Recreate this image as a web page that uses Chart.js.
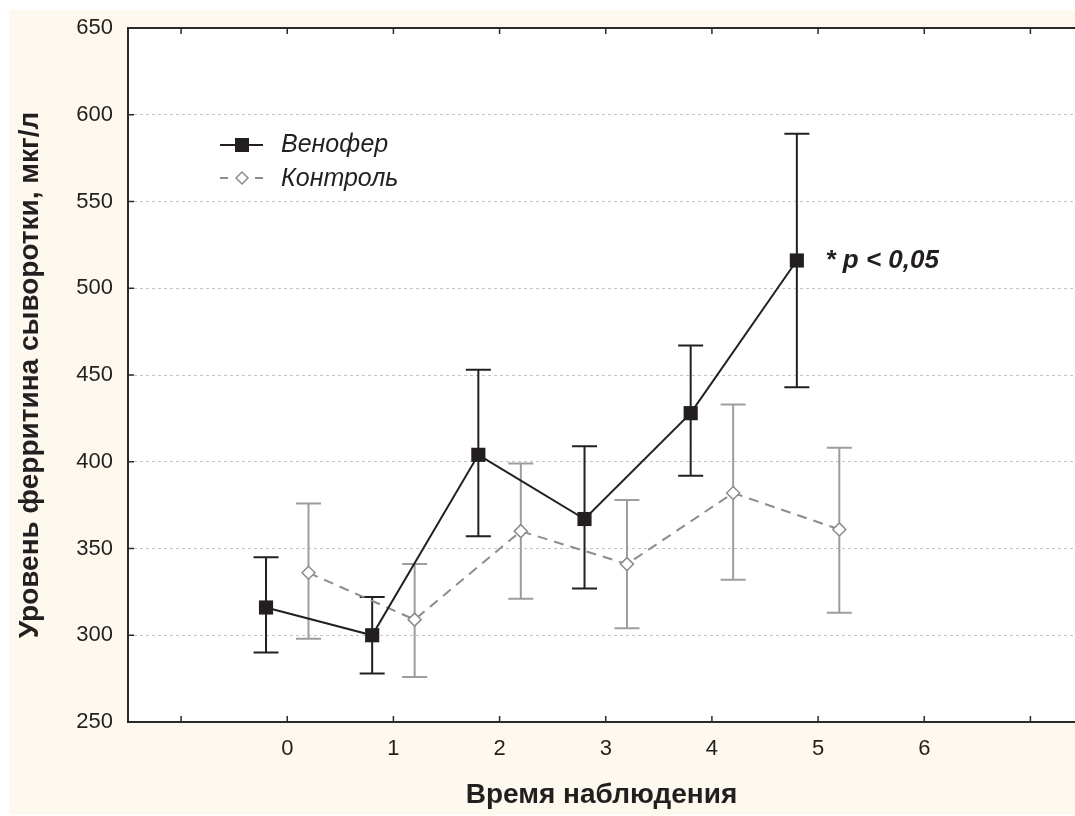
<!DOCTYPE html>
<html>
<head>
<meta charset="utf-8">
<script src="https://cdn.jsdelivr.net/npm/chart.js@4"></script>
<style>
  html, body { margin: 0; padding: 0; background: #fff; overflow: hidden; }
  canvas { display: block; }
</style>
</head>
<body>
<canvas id="ferritinChart" width="1075" height="816"></canvas>
<script>
// Данные
const timePoints = [0, 1, 2, 3, 4, 5];
const venoferMean = [316, 300, 404, 367, 428, 516];
const venoferLow  = [290, 278, 357, 327, 392, 443];
const venoferHigh = [345, 322, 453, 409, 467, 589];
const controlMean = [336, 309, 360, 341, 382, 361];
const controlLow  = [298, 276, 321, 304, 332, 313];
const controlHigh = [376, 341, 399, 378, 433, 408];
const xTicks = [-1, 0, 1, 2, 3, 4, 5, 6, 7];
const xLabels = ['', '0', '1', '2', '3', '4', '5', '6', ''];
const yTicks = [250, 300, 350, 400, 450, 500, 550, 600, 650];
const seriesNames = ['Венофер', 'Контроль'];
const shift = 0.2;

const FONT = "Arial, 'Liberation Sans', sans-serif";
const DARK = '#231f20';
const GREY_LINE = '#8c8c8c';
const GREY_BAR = '#9d9d9d';

const venoferPoints = timePoints.map((t, i) => ({ x: t - shift, y: venoferMean[i] }));
const controlPoints = timePoints.map((t, i) => ({ x: t + shift, y: controlMean[i] }));

// фон, рамка, засечки
const framePlugin = {
    id: 'frame',
    beforeDraw(chart) {
        const { ctx, chartArea: a } = chart;
        ctx.save();
        ctx.fillStyle = '#ffffff';
        ctx.fillRect(0, 0, chart.width, chart.height);
        ctx.fillStyle = '#fef9ee';
        ctx.fillRect(9, 10, chart.width - 9, 805);
        ctx.fillStyle = '#ffffff';
        ctx.fillRect(a.left, a.top, a.right - a.left, a.bottom - a.top);
        ctx.restore();
    },
    afterDraw(chart) {
        const { ctx, chartArea: a, scales } = chart;
        ctx.save();
        ctx.strokeStyle = '#2b2b2b';
        ctx.lineWidth = 2;
        ctx.beginPath();
        ctx.moveTo(a.right, a.top);
        ctx.lineTo(a.left, a.top);
        ctx.lineTo(a.left, a.bottom);
        ctx.lineTo(a.right, a.bottom);
        ctx.stroke();
        ctx.lineWidth = 1.5;
        ctx.beginPath();
        xTicks.forEach(v => {
            const px = scales.x.getPixelForValue(v);
            ctx.moveTo(px, a.top); ctx.lineTo(px, a.top + 6);
            ctx.moveTo(px, a.bottom); ctx.lineTo(px, a.bottom - 6);
        });
        yTicks.forEach(v => {
            const py = scales.y.getPixelForValue(v);
            ctx.moveTo(a.left, py); ctx.lineTo(a.left + 6, py);
        });
        ctx.stroke();
        ctx.restore();
    }
};

// доверительные интервалы
function drawBars(chart, xs, lows, highs, color) {
    const { ctx, scales } = chart;
    ctx.save();
    ctx.strokeStyle = color;
    ctx.lineWidth = 2;
    ctx.beginPath();
    xs.forEach((x, i) => {
        const px = scales.x.getPixelForValue(x);
        const lo = scales.y.getPixelForValue(lows[i]);
        const hi = scales.y.getPixelForValue(highs[i]);
        ctx.moveTo(px, lo); ctx.lineTo(px, hi);
        ctx.moveTo(px - 12.5, lo); ctx.lineTo(px + 12.5, lo);
        ctx.moveTo(px - 12.5, hi); ctx.lineTo(px + 12.5, hi);
    });
    ctx.stroke();
    ctx.restore();
}

const errorBarPlugin = {
    id: 'errorBars',
    beforeDatasetsDraw(chart) {
        drawBars(chart, timePoints.map(t => t + shift), controlLow, controlHigh, GREY_BAR);
        drawBars(chart, timePoints.map(t => t - shift), venoferLow, venoferHigh, DARK);
    }
};

// легенда и подпись
const legendPlugin = {
    id: 'customLegend',
    afterDraw(chart) {
        const { ctx, scales } = chart;
        ctx.save();
        // Венофер
        ctx.strokeStyle = DARK;
        ctx.lineWidth = 2;
        ctx.beginPath();
        ctx.moveTo(220, 145); ctx.lineTo(263, 145);
        ctx.stroke();
        ctx.fillStyle = DARK;
        ctx.fillRect(235, 138, 14, 14);
        // Контроль
        ctx.strokeStyle = GREY_LINE;
        ctx.beginPath();
        ctx.moveTo(220, 178); ctx.lineTo(228, 178);
        ctx.moveTo(255, 178); ctx.lineTo(263, 178);
        ctx.stroke();
        ctx.fillStyle = '#fff';
        ctx.lineWidth = 1.5;
        ctx.beginPath();
        ctx.moveTo(236, 178); ctx.lineTo(242, 172); ctx.lineTo(248, 178); ctx.lineTo(242, 184); ctx.closePath();
        ctx.fill(); ctx.stroke();

        ctx.fillStyle = DARK;
        ctx.font = 'italic 25px ' + FONT;
        ctx.textBaseline = 'middle';
        ctx.textAlign = 'left';
        ctx.fillText(seriesNames[0], 281, 145);
        ctx.fillText(seriesNames[1], 281, 179);

        ctx.font = 'bold italic 26px ' + FONT;
        ctx.fillText('* p < 0,05', scales.x.getPixelForValue(5.07), scales.y.getPixelForValue(516));
        ctx.restore();
    }
};

const ctx = document.getElementById('ferritinChart').getContext('2d');
new Chart(ctx, {
    type: 'line',
    data: {
        datasets: [
            {
                label: seriesNames[0],
                data: venoferPoints,
                borderColor: DARK,
                backgroundColor: DARK,
                borderWidth: 2,
                pointStyle: 'rect',
                pointRadius: 10,
                pointBorderWidth: 0,
                pointBackgroundColor: DARK,
                tension: 0,
                order: 0
            },
            {
                label: seriesNames[1],
                data: controlPoints,
                borderColor: GREY_LINE,
                backgroundColor: '#ffffff',
                borderWidth: 2,
                borderDash: [10, 7],
                pointStyle: 'rectRot',
                pointRadius: 6.5,
                pointBorderWidth: 1.5,
                pointBorderColor: GREY_LINE,
                pointBackgroundColor: '#ffffff',
                tension: 0,
                order: 1
            }
        ]
    },
    options: {
        responsive: false,
        animation: false,
        layout: {
            autoPadding: false,
            padding: { left: 9, top: 28, right: 0, bottom: 0 }
        },
        scales: {
            x: {
                type: 'linear',
                min: -1.5,
                max: 7.42,
                afterFit: s => { s.height = 94; s.paddingLeft = 0; s.paddingRight = 0; },
                afterBuildTicks: s => { s.ticks = xTicks.map(v => ({ value: v })); },
                grid: { display: false, drawTicks: false },
                border: { display: false },
                ticks: {
                    padding: 14,
                    color: DARK,
                    font: { family: FONT, size: 22 },
                    callback: (v) => xLabels[xTicks.indexOf(v)] ?? ''
                },
                title: {
                    display: true,
                    text: 'Время наблюдения',
                    color: DARK,
                    font: { family: FONT, size: 28, weight: 'bold' },
                    padding: { top: 0, bottom: 4 }
                }
            },
            y: {
                min: 250,
                max: 650,
                afterFit: s => { s.width = 119; s.paddingTop = 0; s.paddingBottom = 0; },
                afterBuildTicks: s => { s.ticks = yTicks.map(v => ({ value: v })); },
                grid: {
                    drawTicks: false,
                    color: c => (c.tick && (c.tick.value === 250 || c.tick.value === 650)) ? 'rgba(0,0,0,0)' : '#c4c4c4',
                    lineWidth: 1
                },
                border: { display: false, dash: [3, 3] },
                ticks: {
                    padding: 15,
                    color: DARK,
                    font: { family: FONT, size: 22 }
                },
                title: {
                    display: true,
                    text: 'Уровень ферритина сыворотки, мкг/л',
                    color: DARK,
                    font: { family: FONT, size: 28, weight: 'bold' },
                    padding: { top: 4, bottom: 0 }
                }
            }
        },
        plugins: {
            legend: { display: false },
            tooltip: { enabled: false }
        }
    },
    plugins: [framePlugin, errorBarPlugin, legendPlugin]
});
</script>
</body>
</html>
